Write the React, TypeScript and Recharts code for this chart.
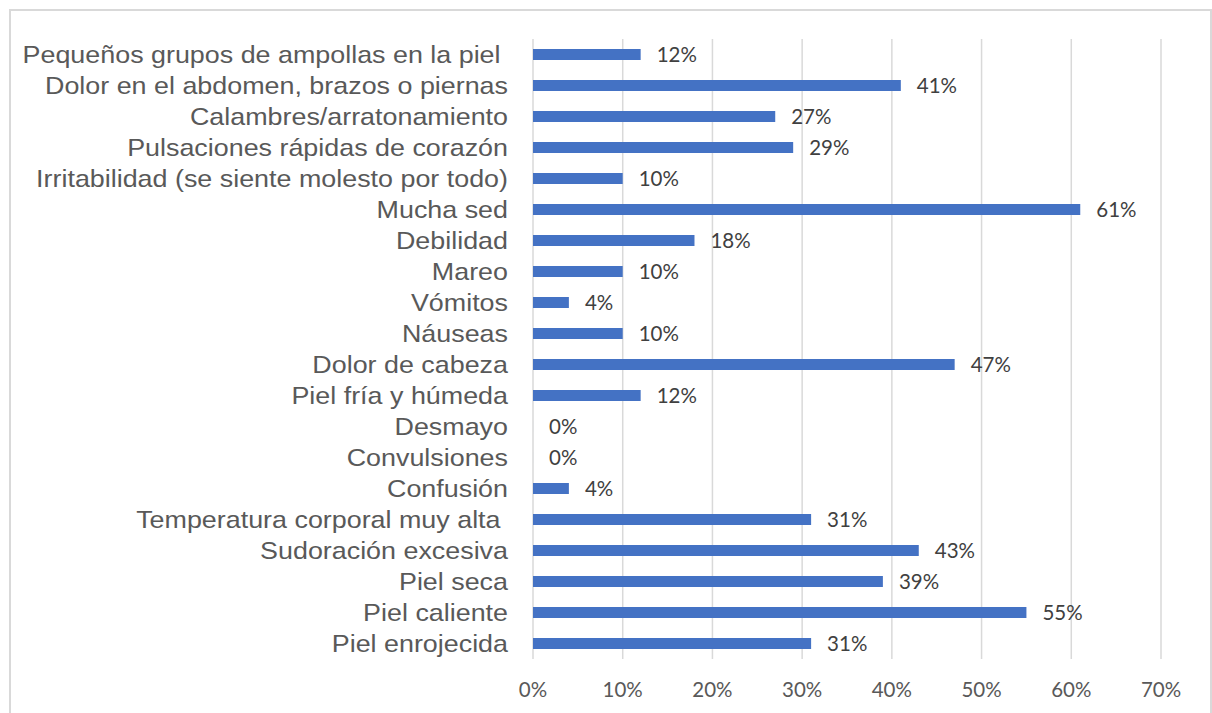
import React from 'react';
import { BarChart, Bar, XAxis, YAxis, CartesianGrid, LabelList } from 'recharts';

const categories = [
  'Pequeños grupos de ampollas en la piel ',
  'Dolor en el abdomen, brazos o piernas',
  'Calambres/arratonamiento',
  'Pulsaciones rápidas de corazón',
  'Irritabilidad (se siente molesto por todo)',
  'Mucha sed',
  'Debilidad',
  'Mareo',
  'Vómitos',
  'Náuseas',
  'Dolor de cabeza',
  'Piel fría y húmeda',
  'Desmayo',
  'Convulsiones',
  'Confusión',
  'Temperatura corporal muy alta ',
  'Sudoración excesiva',
  'Piel seca',
  'Piel caliente',
  'Piel enrojecida',
];

const percentages = [12, 41, 27, 29, 10, 61, 18, 10, 4, 10, 47, 12, 0, 0, 4, 31, 43, 39, 55, 31];

const xTicks = [0, 10, 20, 30, 40, 50, 60, 70];

const data = categories.map((name, i) => ({ name, value: percentages[i] }));

const CategoryTick = (props: any) => {
  const { x, y, payload } = props;
  return (
    <text
      transform={`translate(${x},${y}) scale(1.12,1)`}
      x={0}
      y={0}
      dy="0.355em"
      textAnchor="end"
      fill="#595959"
      fontSize={24}
      fontFamily="'Liberation Sans', Arial, sans-serif"
      style={{ whiteSpace: 'pre' }}
    >
      {payload.value}
    </text>
  );
};

const ValueLabel = (props: any) => {
  const { x, y, width, height, value } = props;
  return (
    <text
      x={Number(x) + Number(width || 0) + 16}
      y={Number(y) + Number(height) / 2}
      dy="0.355em"
      textAnchor="start"
      fill="#404040"
      fontSize={20.5}
      fontFamily="Lato, sans-serif"
    >
      {`${value}%`}
    </text>
  );
};

const App: React.FC = () => {
  return (
    <div
      style={{
        position: 'absolute',
        left: 0,
        top: 0,
        width: 1212,
        height: 713,
        background: '#fff',
        overflow: 'hidden',
      }}
    >
      <div
        style={{
          position: 'absolute',
          left: 9,
          top: 9,
          width: 1199,
          height: 740,
          border: '2px solid #d9d9d9',
        }}
      />
      <div style={{ position: 'absolute', left: 0, top: 0 }}>
        <BarChart
          width={1212}
          height={713}
          data={data}
          layout="vertical"
          margin={{ top: 39, right: 51, bottom: 24, left: 0 }}
          barCategoryGap={0}
        >
          <CartesianGrid horizontal={false} stroke="#d9d9d9" strokeWidth={1.5} />
          <XAxis
            type="number"
            domain={[0, 70]}
            ticks={xTicks}
            tickFormatter={(v: number) => `${v}%`}
            axisLine={false}
            tickLine={false}
            tickSize={0}
            tickMargin={23}
            height={30}
            tick={{ fill: '#595959', fontSize: 20.5, fontFamily: 'Lato, sans-serif' }}
            interval={0}
          />
          <YAxis
            type="category"
            dataKey="name"
            width={533}
            axisLine={false}
            tickLine={false}
            tickSize={0}
            tickMargin={25}
            interval={0}
            tick={<CategoryTick />}
          />
          <Bar dataKey="value" fill="#4472C4" barSize={11} minPointSize={0.01} isAnimationActive={false}>
            <LabelList dataKey="value" content={<ValueLabel />} />
          </Bar>
        </BarChart>
      </div>
    </div>
  );
};

export default App;
